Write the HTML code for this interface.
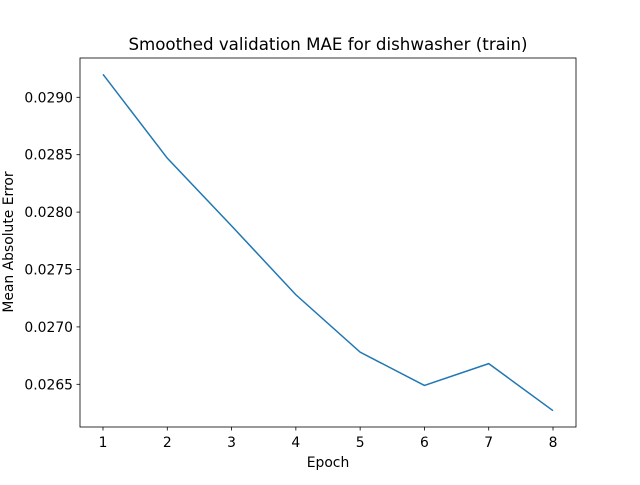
<!DOCTYPE html>
<html><head><meta charset="utf-8"><style>
body{margin:0;background:#fff;}
svg text{font-family:"DejaVu Sans","Liberation Sans",sans-serif;fill:#000;}
</style></head><body>
<svg id="chart" width="640" height="480" xmlns="http://www.w3.org/2000/svg">
<rect width="640" height="480" fill="#fff"/>
<text x="328" y="50" font-size="16.67" text-anchor="middle">Smoothed validation MAE for dishwasher (train)</text>
<g id="ticks"></g>
<path id="line" fill="none" stroke="#1f77b4" stroke-width="1.5"/>
<rect x="80" y="58" width="496" height="369" fill="none" stroke="#000" stroke-width="0.8"/>
<text x="328" y="467" font-size="13.9" text-anchor="middle">Epoch</text>
<text transform="translate(13,242) rotate(-90)" font-size="13.9" text-anchor="middle">Mean Absolute Error</text>
</svg>
<script>
const epochs=[1,2,3,4,5,6,7,8];
const mae=[0.02920,0.02847,0.02788,0.02728,0.02678,0.02649,0.02668,0.02627];
const xTicks=[1,2,3,4,5,6,7,8];
const yTicks=[0.0265,0.0270,0.0275,0.0280,0.0285,0.0290];
const NS="http://www.w3.org/2000/svg";
function xs(v){return 103+(v-1)*(553-103)/7;}
function ys(v){return 384.3-(v-0.0265)/0.0025*(384.3-97.3);}
const g=document.getElementById('ticks');
xTicks.forEach(t=>{
  const l=document.createElementNS(NS,'line');
  l.setAttribute('x1',xs(t));l.setAttribute('x2',xs(t));l.setAttribute('y1',427);l.setAttribute('y2',430.5);
  l.setAttribute('stroke','#000');l.setAttribute('stroke-width','0.8');
  
  
  g.appendChild(l);
  const tx=document.createElementNS(NS,'text');
  tx.setAttribute('x',xs(t));tx.setAttribute('y',447);tx.setAttribute('font-size','13.9');tx.setAttribute('text-anchor','middle');
  tx.textContent=t;
  
  
  g.appendChild(tx);
});
yTicks.forEach(t=>{
  const l=document.createElementNS(NS,'line');
  l.setAttribute('x1',76.5);l.setAttribute('x2',80);l.setAttribute('y1',ys(t));l.setAttribute('y2',ys(t));
  l.setAttribute('stroke','#000');l.setAttribute('stroke-width','0.8');
  
  
  g.appendChild(l);
  const tx=document.createElementNS(NS,'text');
  tx.setAttribute('x',73);tx.setAttribute('y',ys(t)+5);tx.setAttribute('font-size','13.9');tx.setAttribute('text-anchor','end');
  tx.textContent=t.toFixed(4);
  
  
  g.appendChild(tx);
});
document.getElementById('line').setAttribute('d',epochs.map((e,i)=>(i?'L':'M')+xs(e)+','+ys(mae[i])).join(' '));
</script>
</body></html>
